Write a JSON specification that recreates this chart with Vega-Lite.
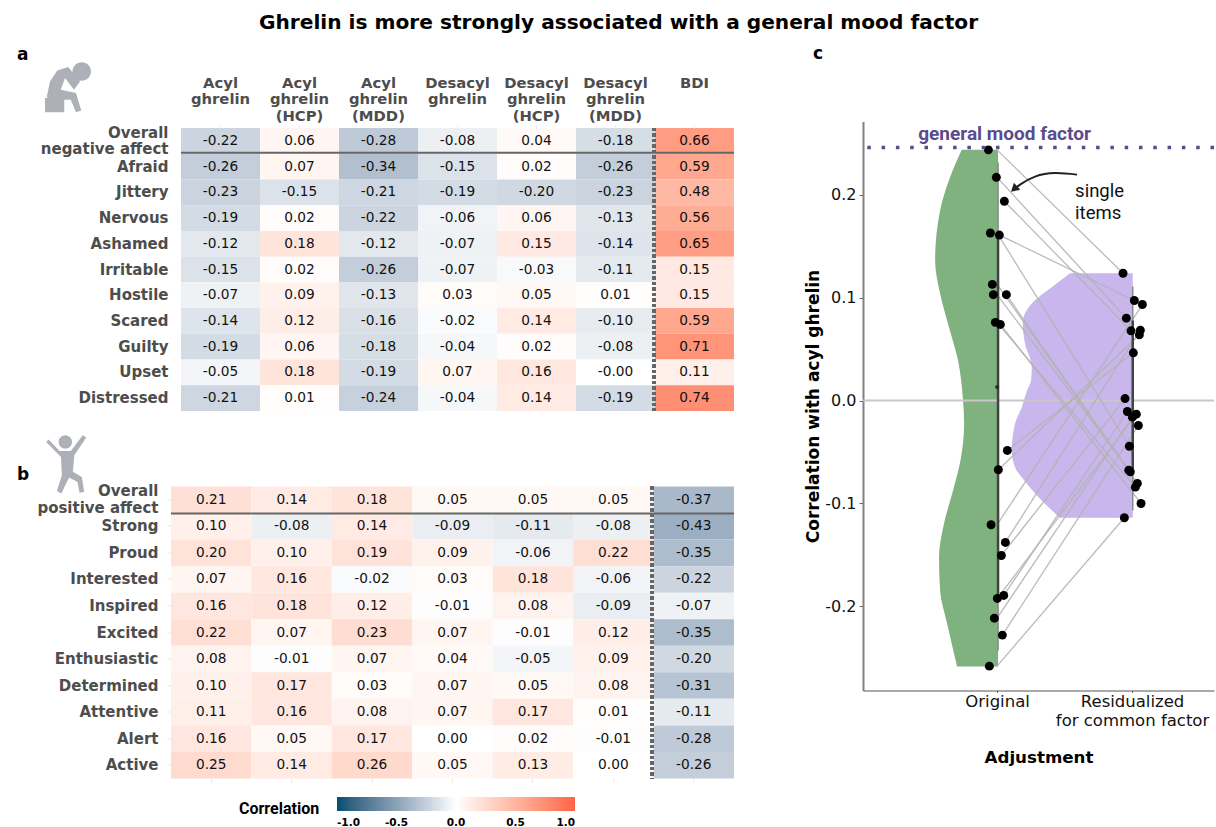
{
"$schema":"https://vega.github.io/schema/vega-lite/v6.json",
"background":"white",
"padding":{"left":17,"top":13,"right":0,"bottom":0},
"title":{"text":"Ghrelin is more strongly associated with a general mood factor","anchor":"start","dx":242,"offset":11.5,"font":"DejaVu Sans","fontSize":20.15,"fontWeight":"bold","color":"#000000"},
"config":{"view":{"stroke":null},"font":"DejaVu Sans"},
"datasets":{
"a":[
{"item":"Overall|negative affect","col":"Acyl|ghrelin|","r":-0.22,"label":"-0.22"},{"item":"Overall|negative affect","col":"Acyl|ghrelin|(HCP)","r":0.06,"label":"0.06"},{"item":"Overall|negative affect","col":"Acyl|ghrelin|(MDD)","r":-0.28,"label":"-0.28"},{"item":"Overall|negative affect","col":"Desacyl|ghrelin|","r":-0.08,"label":"-0.08"},{"item":"Overall|negative affect","col":"Desacyl|ghrelin|(HCP)","r":0.04,"label":"0.04"},{"item":"Overall|negative affect","col":"Desacyl|ghrelin|(MDD)","r":-0.18,"label":"-0.18"},{"item":"Overall|negative affect","col":"BDI||","r":0.66,"label":"0.66"},
{"item":"Afraid","col":"Acyl|ghrelin|","r":-0.26,"label":"-0.26"},{"item":"Afraid","col":"Acyl|ghrelin|(HCP)","r":0.07,"label":"0.07"},{"item":"Afraid","col":"Acyl|ghrelin|(MDD)","r":-0.34,"label":"-0.34"},{"item":"Afraid","col":"Desacyl|ghrelin|","r":-0.15,"label":"-0.15"},{"item":"Afraid","col":"Desacyl|ghrelin|(HCP)","r":0.02,"label":"0.02"},{"item":"Afraid","col":"Desacyl|ghrelin|(MDD)","r":-0.26,"label":"-0.26"},{"item":"Afraid","col":"BDI||","r":0.59,"label":"0.59"},
{"item":"Jittery","col":"Acyl|ghrelin|","r":-0.23,"label":"-0.23"},{"item":"Jittery","col":"Acyl|ghrelin|(HCP)","r":-0.15,"label":"-0.15"},{"item":"Jittery","col":"Acyl|ghrelin|(MDD)","r":-0.21,"label":"-0.21"},{"item":"Jittery","col":"Desacyl|ghrelin|","r":-0.19,"label":"-0.19"},{"item":"Jittery","col":"Desacyl|ghrelin|(HCP)","r":-0.20,"label":"-0.20"},{"item":"Jittery","col":"Desacyl|ghrelin|(MDD)","r":-0.23,"label":"-0.23"},{"item":"Jittery","col":"BDI||","r":0.48,"label":"0.48"},
{"item":"Nervous","col":"Acyl|ghrelin|","r":-0.19,"label":"-0.19"},{"item":"Nervous","col":"Acyl|ghrelin|(HCP)","r":0.02,"label":"0.02"},{"item":"Nervous","col":"Acyl|ghrelin|(MDD)","r":-0.22,"label":"-0.22"},{"item":"Nervous","col":"Desacyl|ghrelin|","r":-0.06,"label":"-0.06"},{"item":"Nervous","col":"Desacyl|ghrelin|(HCP)","r":0.06,"label":"0.06"},{"item":"Nervous","col":"Desacyl|ghrelin|(MDD)","r":-0.13,"label":"-0.13"},{"item":"Nervous","col":"BDI||","r":0.56,"label":"0.56"},
{"item":"Ashamed","col":"Acyl|ghrelin|","r":-0.12,"label":"-0.12"},{"item":"Ashamed","col":"Acyl|ghrelin|(HCP)","r":0.18,"label":"0.18"},{"item":"Ashamed","col":"Acyl|ghrelin|(MDD)","r":-0.12,"label":"-0.12"},{"item":"Ashamed","col":"Desacyl|ghrelin|","r":-0.07,"label":"-0.07"},{"item":"Ashamed","col":"Desacyl|ghrelin|(HCP)","r":0.15,"label":"0.15"},{"item":"Ashamed","col":"Desacyl|ghrelin|(MDD)","r":-0.14,"label":"-0.14"},{"item":"Ashamed","col":"BDI||","r":0.65,"label":"0.65"},
{"item":"Irritable","col":"Acyl|ghrelin|","r":-0.15,"label":"-0.15"},{"item":"Irritable","col":"Acyl|ghrelin|(HCP)","r":0.02,"label":"0.02"},{"item":"Irritable","col":"Acyl|ghrelin|(MDD)","r":-0.26,"label":"-0.26"},{"item":"Irritable","col":"Desacyl|ghrelin|","r":-0.07,"label":"-0.07"},{"item":"Irritable","col":"Desacyl|ghrelin|(HCP)","r":-0.03,"label":"-0.03"},{"item":"Irritable","col":"Desacyl|ghrelin|(MDD)","r":-0.11,"label":"-0.11"},{"item":"Irritable","col":"BDI||","r":0.15,"label":"0.15"},
{"item":"Hostile","col":"Acyl|ghrelin|","r":-0.07,"label":"-0.07"},{"item":"Hostile","col":"Acyl|ghrelin|(HCP)","r":0.09,"label":"0.09"},{"item":"Hostile","col":"Acyl|ghrelin|(MDD)","r":-0.13,"label":"-0.13"},{"item":"Hostile","col":"Desacyl|ghrelin|","r":0.03,"label":"0.03"},{"item":"Hostile","col":"Desacyl|ghrelin|(HCP)","r":0.05,"label":"0.05"},{"item":"Hostile","col":"Desacyl|ghrelin|(MDD)","r":0.01,"label":"0.01"},{"item":"Hostile","col":"BDI||","r":0.15,"label":"0.15"},
{"item":"Scared","col":"Acyl|ghrelin|","r":-0.14,"label":"-0.14"},{"item":"Scared","col":"Acyl|ghrelin|(HCP)","r":0.12,"label":"0.12"},{"item":"Scared","col":"Acyl|ghrelin|(MDD)","r":-0.16,"label":"-0.16"},{"item":"Scared","col":"Desacyl|ghrelin|","r":-0.02,"label":"-0.02"},{"item":"Scared","col":"Desacyl|ghrelin|(HCP)","r":0.14,"label":"0.14"},{"item":"Scared","col":"Desacyl|ghrelin|(MDD)","r":-0.10,"label":"-0.10"},{"item":"Scared","col":"BDI||","r":0.59,"label":"0.59"},
{"item":"Guilty","col":"Acyl|ghrelin|","r":-0.19,"label":"-0.19"},{"item":"Guilty","col":"Acyl|ghrelin|(HCP)","r":0.06,"label":"0.06"},{"item":"Guilty","col":"Acyl|ghrelin|(MDD)","r":-0.18,"label":"-0.18"},{"item":"Guilty","col":"Desacyl|ghrelin|","r":-0.04,"label":"-0.04"},{"item":"Guilty","col":"Desacyl|ghrelin|(HCP)","r":0.02,"label":"0.02"},{"item":"Guilty","col":"Desacyl|ghrelin|(MDD)","r":-0.08,"label":"-0.08"},{"item":"Guilty","col":"BDI||","r":0.71,"label":"0.71"},
{"item":"Upset","col":"Acyl|ghrelin|","r":-0.05,"label":"-0.05"},{"item":"Upset","col":"Acyl|ghrelin|(HCP)","r":0.18,"label":"0.18"},{"item":"Upset","col":"Acyl|ghrelin|(MDD)","r":-0.19,"label":"-0.19"},{"item":"Upset","col":"Desacyl|ghrelin|","r":0.07,"label":"0.07"},{"item":"Upset","col":"Desacyl|ghrelin|(HCP)","r":0.16,"label":"0.16"},{"item":"Upset","col":"Desacyl|ghrelin|(MDD)","r":0.0,"label":"-0.00"},{"item":"Upset","col":"BDI||","r":0.11,"label":"0.11"},
{"item":"Distressed","col":"Acyl|ghrelin|","r":-0.21,"label":"-0.21"},{"item":"Distressed","col":"Acyl|ghrelin|(HCP)","r":0.01,"label":"0.01"},{"item":"Distressed","col":"Acyl|ghrelin|(MDD)","r":-0.24,"label":"-0.24"},{"item":"Distressed","col":"Desacyl|ghrelin|","r":-0.04,"label":"-0.04"},{"item":"Distressed","col":"Desacyl|ghrelin|(HCP)","r":0.14,"label":"0.14"},{"item":"Distressed","col":"Desacyl|ghrelin|(MDD)","r":-0.19,"label":"-0.19"},{"item":"Distressed","col":"BDI||","r":0.74,"label":"0.74"}
],
"b":[
{"item":"Overall|positive affect","col":"Acyl|ghrelin|","r":0.21,"label":"0.21"},{"item":"Overall|positive affect","col":"Acyl|ghrelin|(HCP)","r":0.14,"label":"0.14"},{"item":"Overall|positive affect","col":"Acyl|ghrelin|(MDD)","r":0.18,"label":"0.18"},{"item":"Overall|positive affect","col":"Desacyl|ghrelin|","r":0.05,"label":"0.05"},{"item":"Overall|positive affect","col":"Desacyl|ghrelin|(HCP)","r":0.05,"label":"0.05"},{"item":"Overall|positive affect","col":"Desacyl|ghrelin|(MDD)","r":0.05,"label":"0.05"},{"item":"Overall|positive affect","col":"BDI||","r":-0.37,"label":"-0.37"},
{"item":"Strong","col":"Acyl|ghrelin|","r":0.10,"label":"0.10"},{"item":"Strong","col":"Acyl|ghrelin|(HCP)","r":-0.08,"label":"-0.08"},{"item":"Strong","col":"Acyl|ghrelin|(MDD)","r":0.14,"label":"0.14"},{"item":"Strong","col":"Desacyl|ghrelin|","r":-0.09,"label":"-0.09"},{"item":"Strong","col":"Desacyl|ghrelin|(HCP)","r":-0.11,"label":"-0.11"},{"item":"Strong","col":"Desacyl|ghrelin|(MDD)","r":-0.08,"label":"-0.08"},{"item":"Strong","col":"BDI||","r":-0.43,"label":"-0.43"},
{"item":"Proud","col":"Acyl|ghrelin|","r":0.20,"label":"0.20"},{"item":"Proud","col":"Acyl|ghrelin|(HCP)","r":0.10,"label":"0.10"},{"item":"Proud","col":"Acyl|ghrelin|(MDD)","r":0.19,"label":"0.19"},{"item":"Proud","col":"Desacyl|ghrelin|","r":0.09,"label":"0.09"},{"item":"Proud","col":"Desacyl|ghrelin|(HCP)","r":-0.06,"label":"-0.06"},{"item":"Proud","col":"Desacyl|ghrelin|(MDD)","r":0.22,"label":"0.22"},{"item":"Proud","col":"BDI||","r":-0.35,"label":"-0.35"},
{"item":"Interested","col":"Acyl|ghrelin|","r":0.07,"label":"0.07"},{"item":"Interested","col":"Acyl|ghrelin|(HCP)","r":0.16,"label":"0.16"},{"item":"Interested","col":"Acyl|ghrelin|(MDD)","r":-0.02,"label":"-0.02"},{"item":"Interested","col":"Desacyl|ghrelin|","r":0.03,"label":"0.03"},{"item":"Interested","col":"Desacyl|ghrelin|(HCP)","r":0.18,"label":"0.18"},{"item":"Interested","col":"Desacyl|ghrelin|(MDD)","r":-0.06,"label":"-0.06"},{"item":"Interested","col":"BDI||","r":-0.22,"label":"-0.22"},
{"item":"Inspired","col":"Acyl|ghrelin|","r":0.16,"label":"0.16"},{"item":"Inspired","col":"Acyl|ghrelin|(HCP)","r":0.18,"label":"0.18"},{"item":"Inspired","col":"Acyl|ghrelin|(MDD)","r":0.12,"label":"0.12"},{"item":"Inspired","col":"Desacyl|ghrelin|","r":-0.01,"label":"-0.01"},{"item":"Inspired","col":"Desacyl|ghrelin|(HCP)","r":0.08,"label":"0.08"},{"item":"Inspired","col":"Desacyl|ghrelin|(MDD)","r":-0.09,"label":"-0.09"},{"item":"Inspired","col":"BDI||","r":-0.07,"label":"-0.07"},
{"item":"Excited","col":"Acyl|ghrelin|","r":0.22,"label":"0.22"},{"item":"Excited","col":"Acyl|ghrelin|(HCP)","r":0.07,"label":"0.07"},{"item":"Excited","col":"Acyl|ghrelin|(MDD)","r":0.23,"label":"0.23"},{"item":"Excited","col":"Desacyl|ghrelin|","r":0.07,"label":"0.07"},{"item":"Excited","col":"Desacyl|ghrelin|(HCP)","r":-0.01,"label":"-0.01"},{"item":"Excited","col":"Desacyl|ghrelin|(MDD)","r":0.12,"label":"0.12"},{"item":"Excited","col":"BDI||","r":-0.35,"label":"-0.35"},
{"item":"Enthusiastic","col":"Acyl|ghrelin|","r":0.08,"label":"0.08"},{"item":"Enthusiastic","col":"Acyl|ghrelin|(HCP)","r":-0.01,"label":"-0.01"},{"item":"Enthusiastic","col":"Acyl|ghrelin|(MDD)","r":0.07,"label":"0.07"},{"item":"Enthusiastic","col":"Desacyl|ghrelin|","r":0.04,"label":"0.04"},{"item":"Enthusiastic","col":"Desacyl|ghrelin|(HCP)","r":-0.05,"label":"-0.05"},{"item":"Enthusiastic","col":"Desacyl|ghrelin|(MDD)","r":0.09,"label":"0.09"},{"item":"Enthusiastic","col":"BDI||","r":-0.20,"label":"-0.20"},
{"item":"Determined","col":"Acyl|ghrelin|","r":0.10,"label":"0.10"},{"item":"Determined","col":"Acyl|ghrelin|(HCP)","r":0.17,"label":"0.17"},{"item":"Determined","col":"Acyl|ghrelin|(MDD)","r":0.03,"label":"0.03"},{"item":"Determined","col":"Desacyl|ghrelin|","r":0.07,"label":"0.07"},{"item":"Determined","col":"Desacyl|ghrelin|(HCP)","r":0.05,"label":"0.05"},{"item":"Determined","col":"Desacyl|ghrelin|(MDD)","r":0.08,"label":"0.08"},{"item":"Determined","col":"BDI||","r":-0.31,"label":"-0.31"},
{"item":"Attentive","col":"Acyl|ghrelin|","r":0.11,"label":"0.11"},{"item":"Attentive","col":"Acyl|ghrelin|(HCP)","r":0.16,"label":"0.16"},{"item":"Attentive","col":"Acyl|ghrelin|(MDD)","r":0.08,"label":"0.08"},{"item":"Attentive","col":"Desacyl|ghrelin|","r":0.07,"label":"0.07"},{"item":"Attentive","col":"Desacyl|ghrelin|(HCP)","r":0.17,"label":"0.17"},{"item":"Attentive","col":"Desacyl|ghrelin|(MDD)","r":0.01,"label":"0.01"},{"item":"Attentive","col":"BDI||","r":-0.11,"label":"-0.11"},
{"item":"Alert","col":"Acyl|ghrelin|","r":0.16,"label":"0.16"},{"item":"Alert","col":"Acyl|ghrelin|(HCP)","r":0.05,"label":"0.05"},{"item":"Alert","col":"Acyl|ghrelin|(MDD)","r":0.17,"label":"0.17"},{"item":"Alert","col":"Desacyl|ghrelin|","r":0.0,"label":"0.00"},{"item":"Alert","col":"Desacyl|ghrelin|(HCP)","r":0.02,"label":"0.02"},{"item":"Alert","col":"Desacyl|ghrelin|(MDD)","r":-0.01,"label":"-0.01"},{"item":"Alert","col":"BDI||","r":-0.28,"label":"-0.28"},
{"item":"Active","col":"Acyl|ghrelin|","r":0.25,"label":"0.25"},{"item":"Active","col":"Acyl|ghrelin|(HCP)","r":0.14,"label":"0.14"},{"item":"Active","col":"Acyl|ghrelin|(MDD)","r":0.26,"label":"0.26"},{"item":"Active","col":"Desacyl|ghrelin|","r":0.05,"label":"0.05"},{"item":"Active","col":"Desacyl|ghrelin|(HCP)","r":0.13,"label":"0.13"},{"item":"Active","col":"Desacyl|ghrelin|(MDD)","r":0.0,"label":"0.00"},{"item":"Active","col":"BDI||","r":-0.26,"label":"-0.26"}
],
"items":[
{"id":1,"x":0.9356,"xl":1.0,"y":0.2439},{"id":1,"x":1.9333,"xl":1.9333,"y":0.1238},
{"id":2,"x":0.9948,"xl":1.0,"y":0.2172},{"id":2,"x":1.9578,"xl":1.9578,"y":0.0801},
{"id":3,"x":1.0541,"xl":1.0541,"y":0.1939},{"id":3,"x":1.9926,"xl":1.9926,"y":0.0678},
{"id":4,"x":0.9504,"xl":1.0,"y":0.163},{"id":4,"x":1.98,"xl":1.98,"y":-0.0445},
{"id":5,"x":1.017,"xl":1.017,"y":0.161},{"id":5,"x":2.017,"xl":2.017,"y":0.0973},
{"id":6,"x":0.9652,"xl":1.0,"y":0.113},{"id":6,"x":1.9756,"xl":1.9756,"y":-0.0678},
{"id":7,"x":0.9726,"xl":1.0,"y":0.103},{"id":7,"x":1.9874,"xl":1.9874,"y":-0.0694},
{"id":8,"x":1.0689,"xl":1.0689,"y":0.103},{"id":8,"x":2.0393,"xl":2.0393,"y":-0.0807},
{"id":9,"x":0.9874,"xl":1.0,"y":0.076},{"id":9,"x":2.0244,"xl":2.0244,"y":-0.0843},
{"id":10,"x":1.0244,"xl":1.0244,"y":0.074},{"id":10,"x":2.0667,"xl":2.0667,"y":-0.1002},
{"id":11,"x":1.0763,"xl":1.0763,"y":-0.0486},{"id":11,"x":2.0096,"xl":2.0096,"y":0.0464},
{"id":12,"x":1.0096,"xl":1.0096,"y":-0.0674},{"id":12,"x":2.0541,"xl":2.0541,"y":0.0639},
{"id":13,"x":0.9556,"xl":1.0,"y":-0.1209},{"id":13,"x":2.0763,"xl":2.0763,"y":0.0934},
{"id":14,"x":1.0615,"xl":1.0615,"y":-0.1381},{"id":14,"x":2.0615,"xl":2.0615,"y":0.0684},
{"id":15,"x":1.0319,"xl":1.0319,"y":-0.1508},{"id":15,"x":1.9481,"xl":1.9481,"y":0.0019},
{"id":16,"x":1.0496,"xl":1.0496,"y":-0.1897},{"id":16,"x":1.9652,"xl":1.9652,"y":-0.0107},
{"id":17,"x":1.0022,"xl":1.0022,"y":-0.1926},{"id":17,"x":2.0319,"xl":2.0319,"y":-0.0133},
{"id":18,"x":0.98,"xl":1.0,"y":-0.2118},{"id":18,"x":2.0022,"xl":2.0022,"y":-0.0162},
{"id":19,"x":1.0393,"xl":1.0393,"y":-0.2283},{"id":19,"x":2.0467,"xl":2.0467,"y":-0.0243},
{"id":20,"x":0.943,"xl":1.0,"y":-0.2585},{"id":20,"x":1.943,"xl":1.943,"y":-0.1141}
],
"green":[
{"xa":0.7385,"xb":1.0074,"y":0.244},{"xa":0.652,"xb":1.0074,"y":0.2173},{"xa":0.578,"xb":1.0074,"y":0.1849},{"xa":0.541,"xb":1.0074,"y":0.1363},{"xa":0.578,"xb":1.0074,"y":0.1041},{"xa":0.644,"xb":1.0074,"y":0.0713},{"xa":0.711,"xb":1.0074,"y":0.0389},{"xa":0.748,"xb":1.0074,"y":0.0},{"xa":0.756,"xb":1.0074,"y":-0.0224},{"xa":0.733,"xb":1.0074,"y":-0.0555},{"xa":0.674,"xb":1.0074,"y":-0.0876},{"xa":0.607,"xb":1.0074,"y":-0.1197},{"xa":0.57,"xb":1.0074,"y":-0.1528},{"xa":0.578,"xb":1.0074,"y":-0.1849},{"xa":0.63,"xb":1.0074,"y":-0.217},{"xa":0.704,"xb":1.0074,"y":-0.2589}
],
"purple":[
{"xa":1.5407,"xb":2.005,"y":0.1238},{"xa":1.405,"xb":2.005,"y":0.1102},{"xa":1.257,"xb":2.005,"y":0.0944},{"xa":1.19,"xb":2.005,"y":0.0749},{"xa":1.207,"xb":2.005,"y":0.0554},{"xa":1.257,"xb":2.005,"y":0.0324},{"xa":1.252,"xb":2.005,"y":0.0195},{"xa":1.222,"xb":2.005,"y":0.0097},{"xa":1.183,"xb":2.005,"y":-0.0065},{"xa":1.133,"xb":2.005,"y":-0.0224},{"xa":1.109,"xb":2.005,"y":-0.0486},{"xa":1.133,"xb":2.005,"y":-0.0649},{"xa":1.22,"xb":2.005,"y":-0.0807},{"xa":1.331,"xb":2.005,"y":-0.0973},{"xa":1.467,"xb":2.005,"y":-0.1141}
],
"whisker":[{"x":1.0074,"lo":-0.2432,"hi":0.2315},{"x":2.005,"lo":-0.107,"hi":0.1109}],
"box":[{"x":1.0074,"lo":-0.1916,"hi":0.1615},{"x":2.005,"lo":-0.0681,"hi":0.0778}],
"arrow":[{"x":1.5926,"y":0.2198},{"x":1.4296,"y":0.2213},{"x":1.2815,"y":0.2179},{"x":1.1704,"y":0.2101},{"x":1.1185,"y":0.2043}],
"notes":[{"x":1.578,"y":0.2034,"text":"single"},{"x":1.578,"y":0.182,"text":"items"}]
},
"hconcat":[
{"vconcat":[
{"title":{"text":"a","anchor":"start","frame":"group","dx":-154,"dy":1.5,"offset":0,"font":"DejaVu Sans","fontSize":17,"fontWeight":"bold","color":"#000000"},
"width":563,"height":283,
"data":{"name":"a"},
"layer":[
{"mark":{"type":"rect"},
"encoding":{
"x":{"field":"col","type":"nominal","title":null,"scale":{"domain":["Acyl|ghrelin|","Acyl|ghrelin|(HCP)","Acyl|ghrelin|(MDD)","Desacyl|ghrelin|","Desacyl|ghrelin|(HCP)","Desacyl|ghrelin|(MDD)","BDI||"],"range":[10,563],"paddingInner":0,"paddingOuter":0},
"axis":{"orient":"top","labelAngle":0,"labelAlign":"center","labelBaseline":"bottom","labelExpr":"split(datum.label,'|')","labelFont":"DejaVu Sans","labelFontWeight":"bold","labelFontSize":14.8,"labelLineHeight":16.7,"labelColor":"#4d4d4d","labelPadding":35,"domain":false,"tickColor":"#ebebeb","tickSize":3}},
"y":{"field":"item","type":"nominal","title":null,"scale":{"domain":["Overall|negative affect","Afraid","Jittery","Nervous","Ashamed","Irritable","Hostile","Scared","Guilty","Upset","Distressed"],"paddingInner":0,"paddingOuter":0},
"axis":{"labelExpr":"split(datum.label,'|')","labelOffset":{"condition":{"test":"indexof(datum.value,'|')>=0","value":-8.35},"value":0},"labelFont":"DejaVu Sans","labelFontWeight":"bold","labelFontSize":15,"labelLineHeight":16.7,"labelColor":"#4d4d4d","labelPadding":3,"domain":false,"ticks":false}},
"color":{"field":"r","type":"quantitative","scale":{"domain":[-1,-0.4,0,1],"range":["#004f71","#a3b4c6","#ffffff","#ff6347"],"interpolate":"lab"},
"legend":{"title":["","Correlation"],"orient":"none","legendX":68,"legendY":669,"direction":"horizontal","gradientLength":238,"gradientThickness":14,"titleOrient":"left","titleLineHeight":9.5,"titleFont":"Roboto","titleFontWeight":"bold","titleFontSize":16,"titleColor":"#000000","titlePadding":17,"labelFont":"DejaVu Sans","labelFontWeight":"bold","labelFontSize":10.5,"labelColor":"#000000","labelOffset":7,"labelExpr":"replace(datum.label,'\u2212','-')","values":[-1,-0.5,0,0.5,1],"format":".1f","encoding":{"labels":{"update":{"align":{"value":"center"}}}}}}
}},
{"mark":{"type":"text","font":"DejaVu Sans","fontSize":13.7,"color":"#111111"},
"encoding":{"x":{"field":"col","type":"nominal"},"y":{"field":"item","type":"nominal"},"text":{"field":"label","type":"nominal"}}},
{"transform":[{"filter":"datum.item=='Overall|negative affect'"}],
"mark":{"type":"tick","orient":"horizontal","size":79,"thickness":2,"color":"#666666","opacity":1,"yOffset":-1},
"encoding":{"x":{"field":"col","type":"nominal"},"y":{"field":"item","type":"nominal","bandPosition":1}}},
{"mark":{"type":"rule","color":"#666666","strokeWidth":3,"strokeDash":[3,2.5],"xOffset":-1},
"encoding":{"x":{"datum":"BDI||","type":"nominal","bandPosition":0}}},
{"transform":[{"filter":"datum.item=='Overall|negative affect'&&datum.col=='Acyl|ghrelin|'"}],
"mark":{"type":"point","filled":true,"opacity":1,"color":"#adb0b6","size":2500,"xOffset":-153,"yOffset":-53.5,"shape":"M-.83,.39L-.70,-.23L-.41,-.67L.03,-.81L.5,-.23L.26,.10L-.10,-.37L-.27,.10L.34,.23L.55,.93L.34,1L.13,.5L-.7,.5ZM.94,-.63A.37,.37 0 1 1 .2,-.63A.37,.37 0 1 1 .94,-.63ZM-.9,.43L-.13,.43L-.13,1L-.9,1Z"},
"encoding":{"x":{"field":"col","type":"nominal"},"y":{"field":"item","type":"nominal"}}}
]},
{"title":{"text":"b","anchor":"start","frame":"group","dx":-154,"dy":48.5,"offset":0,"font":"DejaVu Sans","fontSize":17,"fontWeight":"bold","color":"#000000"},
"width":563,"height":292,
"data":{"name":"b"},
"layer":[
{"mark":{"type":"rect"},
"encoding":{
"x":{"field":"col","type":"nominal","title":null,"scale":{"domain":["Acyl|ghrelin|","Acyl|ghrelin|(HCP)","Acyl|ghrelin|(MDD)","Desacyl|ghrelin|","Desacyl|ghrelin|(HCP)","Desacyl|ghrelin|(MDD)","BDI||"],"paddingInner":0,"paddingOuter":0},
"axis":{"orient":"bottom","labels":false,"domain":false,"tickColor":"#ebebeb","tickSize":4}},
"y":{"field":"item","type":"nominal","title":null,"scale":{"domain":["Overall|positive affect","Strong","Proud","Interested","Inspired","Excited","Enthusiastic","Determined","Attentive","Alert","Active"],"paddingInner":0,"paddingOuter":0},
"axis":{"labelExpr":"split(datum.label,'|')","labelOffset":{"condition":{"test":"indexof(datum.value,'|')>=0","value":-8.35},"value":0},"labelFont":"DejaVu Sans","labelFontWeight":"bold","labelFontSize":15,"labelLineHeight":16.7,"labelColor":"#4d4d4d","labelPadding":9,"domain":false,"tickColor":"#ebebeb","tickSize":4}},
"color":{"field":"r","type":"quantitative","scale":{"domain":[-1,-0.4,0,1],"range":["#004f71","#a3b4c6","#ffffff","#ff6347"],"interpolate":"lab"}}
}},
{"mark":{"type":"text","font":"DejaVu Sans","fontSize":13.7,"color":"#111111"},
"encoding":{"x":{"field":"col","type":"nominal"},"y":{"field":"item","type":"nominal"},"text":{"field":"label","type":"nominal"}}},
{"transform":[{"filter":"datum.item=='Overall|positive affect'"}],
"mark":{"type":"tick","orient":"horizontal","size":80.5,"thickness":2,"color":"#666666","opacity":1,"yOffset":0.5},
"encoding":{"x":{"field":"col","type":"nominal"},"y":{"field":"item","type":"nominal","bandPosition":1}}},
{"mark":{"type":"rule","color":"#666666","strokeWidth":3,"strokeDash":[3,2.5],"xOffset":-1.5},
"encoding":{"x":{"datum":"BDI||","type":"nominal","bandPosition":0}}},
{"transform":[{"filter":"datum.item=='Overall|positive affect'&&datum.col=='Acyl|ghrelin|'"}],
"mark":{"type":"point","filled":true,"opacity":1,"color":"#adb0b6","size":3364,"xOffset":-145,"yOffset":-35.5,"shape":"M-.69,-.77L-.61,-.85L-.23,-.46L.16,-.46L.57,-1L.69,-.92L.28,-.31L.23,.26L.54,.44L.62,.95L.46,.98L.39,.61L.10,.46L-.17,1.01L-.32,.92L-.15,.38L-.18,-.25ZM.2,-.77A.23,.23 0 1 1 -.26,-.77A.23,.23 0 1 1 .2,-.77Z"},
"encoding":{"x":{"field":"col","type":"nominal"},"y":{"field":"item","type":"nominal"}}}
]}
],"spacing":75.5,"bounds":"flush"},
{"title":{"text":"c","anchor":"start","frame":"group","dx":-50,"offset":62.5,"font":"DejaVu Sans","fontSize":17,"fontWeight":"bold","color":"#000000"},
"width":351,"height":562.5,
"layer":[
{"data":{"name":"green"},"mark":{"type":"area","orient":"horizontal","interpolate":"monotone","color":"#7fb27f","opacity":1},
"encoding":{
"x":{"field":"xa","type":"quantitative","title":"Adjustment","scale":{"domain":[0.007,2.607],"nice":false,"zero":false},
"axis":{"values":[1,2],"grid":false,"labelExpr":"datum.value==1?'Original':split('Residualized|for common factor','|')","labelFont":"DejaVu Sans","labelFontSize":16.5,"labelLineHeight":19,"labelColor":"#111111","labelPadding":1,"ticks":true,"tickSize":2,"tickColor":"#666666","domainColor":"#555555","domainWidth":1,"titleFont":"DejaVu Sans","titleFontWeight":"bold","titleFontSize":16.7,"titleColor":"#000000","titlePadding":20}},
"x2":{"field":"xb"},
"y":{"field":"y","type":"quantitative","title":"Correlation with acyl ghrelin","scale":{"domain":[-0.2822,0.2715],"range":[562.5,-6.5],"nice":false,"zero":false},
"axis":{"values":[-0.2,-0.1,0,0.1,0.2],"format":".1f","labelExpr":"replace(datum.label,'\u2212','-')","grid":false,"labelFont":"DejaVu Sans","labelFontSize":16,"labelColor":"#111111","labelPadding":3,"tickColor":"#666666","tickSize":4,"domainColor":"#808080","domainWidth":2,"titleFont":"DejaVu Sans","titleFontWeight":"bold","titleFontSize":17,"titleColor":"#000000","titlePadding":2}}
}},
{"data":{"name":"purple"},"mark":{"type":"area","orient":"horizontal","interpolate":"monotone","color":"#c8b6ec","opacity":1},
"encoding":{"x":{"field":"xa","type":"quantitative"},"x2":{"field":"xb"},"y":{"field":"y","type":"quantitative"}}},
{"data":{"values":[{"y":0}]},"mark":{"type":"rule","color":"#c8c8c8","strokeWidth":2},"encoding":{"y":{"field":"y","type":"quantitative"}}},
{"data":{"name":"items"},"mark":{"type":"line","color":"#b3b3b3","strokeWidth":1.3,"opacity":0.9},
"encoding":{"x":{"field":"xl","type":"quantitative"},"y":{"field":"y","type":"quantitative"},"detail":{"field":"id","type":"nominal"}}},
{"data":{"name":"whisker"},"mark":{"type":"rule","color":"#888888","strokeWidth":1.5},
"encoding":{"x":{"field":"x","type":"quantitative"},"y":{"field":"lo","type":"quantitative"},"y2":{"field":"hi"}}},
{"data":{"name":"box"},"mark":{"type":"rule","color":"#444444","strokeWidth":2.5},
"encoding":{"x":{"field":"x","type":"quantitative"},"y":{"field":"lo","type":"quantitative"},"y2":{"field":"hi"}}},
{"data":{"values":[{"x":1.0,"y":0.0131}]},"mark":{"type":"circle","color":"#222222","size":18,"opacity":0.8},
"encoding":{"x":{"field":"x","type":"quantitative"},"y":{"field":"y","type":"quantitative"}}},
{"data":{"name":"items"},"mark":{"type":"circle","color":"#000000","size":80,"opacity":1},
"encoding":{"x":{"field":"x","type":"quantitative"},"y":{"field":"y","type":"quantitative"}}},
{"data":{"values":[{"y":0.2462}]},"mark":{"type":"rule","color":"#5b4a8c","strokeWidth":3.5,"strokeDash":[3.5,10.8]},"encoding":{"y":{"field":"y","type":"quantitative"}}},
{"data":{"values":[{"x":1.0556,"y":0.2589,"text":"general mood factor"}]},"mark":{"type":"text","font":"Roboto","fontWeight":"bold","fontSize":19,"color":"#5b4a8c"},
"encoding":{"x":{"field":"x","type":"quantitative"},"y":{"field":"y","type":"quantitative"},"text":{"field":"text","type":"nominal"}}},
{"data":{"name":"notes"},"mark":{"type":"text","font":"Roboto","fontSize":18.5,"color":"#111111","align":"left"},
"encoding":{"x":{"field":"x","type":"quantitative"},"y":{"field":"y","type":"quantitative"},"text":{"field":"text","type":"nominal"}}},
{"data":{"name":"arrow"},"mark":{"type":"line","color":"#222222","strokeWidth":2,"interpolate":"natural"},
"encoding":{"x":{"field":"x","type":"quantitative"},"y":{"field":"y","type":"quantitative"}}},
{"data":{"values":[{"x":1.1259,"y":0.2058}]},"mark":{"type":"point","filled":true,"opacity":1,"shape":"triangle-up","angle":228,"size":90,"color":"#222222"},
"encoding":{"x":{"field":"x","type":"quantitative"},"y":{"field":"y","type":"quantitative"}}}
]}
],"spacing":692,"bounds":"flush"
}
